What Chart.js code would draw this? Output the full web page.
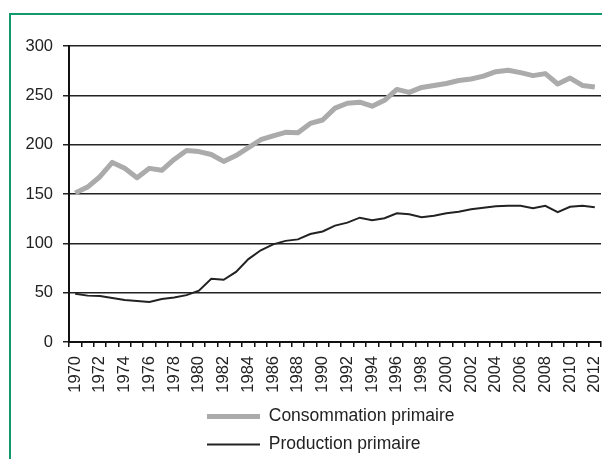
<!DOCTYPE html>
<html>
<head>
<meta charset="utf-8">
<script src="https://cdn.jsdelivr.net/npm/chart.js@4/dist/chart.umd.min.js"></script>
<style>
  html, body { margin: 0; padding: 0; background: #fff; overflow: hidden; }
  #cadre { position: absolute; left: 9px; top: 13px; width: 800px; height: 800px; border: 2px solid #13996b; }
  #graph { position: absolute; left: 0; top: 0; }
</style>
</head>
<body>
<div id="cadre"></div>
<canvas id="graph" width="602" height="459"></canvas>
<script>
const annees = ["1970", "1971", "1972", "1973", "1974", "1975", "1976", "1977", "1978", "1979",
  "1980", "1981", "1982", "1983", "1984", "1985", "1986", "1987", "1988", "1989",
  "1990", "1991", "1992", "1993", "1994", "1995", "1996", "1997", "1998", "1999",
  "2000", "2001", "2002", "2003", "2004", "2005", "2006", "2007", "2008", "2009",
  "2010", "2011", "2012"];

const consommation = [151, 157, 167.5, 182, 176, 166.5, 176, 174, 185, 194,
  193, 190, 183, 189, 197, 205, 209, 212.5, 212, 221.5,
  225, 237, 242, 243, 239, 245, 256, 253, 258, 260,
  262, 265, 266.5, 269.5, 274, 275.5, 273, 270, 272, 261.5,
  267.5, 260, 258.5];

const production = [49, 47, 46.5, 44.5, 42.5, 41.5, 40.5, 43.5, 45, 47.5,
  52, 64, 63, 71, 84, 93, 99, 102.5, 104, 109.5,
  112, 118, 121, 126, 123.5, 125.5, 130.5, 129.5, 126.5, 128,
  130.5, 132, 134.5, 136, 137.5, 138, 138, 135.5, 138, 131.5,
  137, 138, 136.5];

const police = "'Liberation Sans', Arial, sans-serif";

// legende sur deux lignes, alignee a gauche comme l'original
const legendePlace = {
  id: "legendePlace",
  afterLayout(chart) {
    const leg = chart.legend;
    leg.left = 196.5;
    leg.top = 397.25;
    leg.bottom = 459;
  },
};

new Chart(document.getElementById("graph"), {
  type: "line",
  data: {
    labels: annees,
    datasets: [
      {
        label: "Consommation primaire",
        data: consommation,
        borderColor: "#ababab",
        backgroundColor: "#ababab",
        borderWidth: 5,
        pointRadius: 0,
        tension: 0,
        borderJoinStyle: "round",
      },
      {
        label: "Production primaire",
        data: production,
        borderColor: "#222222",
        backgroundColor: "#222222",
        borderWidth: 2,
        pointRadius: 0,
        tension: 0,
      },
    ],
  },
  options: {
    responsive: false,
    animation: false,
    layout: { padding: { left: 26, top: 46, right: 1, bottom: 24 } },
    plugins: {
      tooltip: { enabled: false },
      legend: {
        position: "bottom",
        align: "start",
        labels: {
          usePointStyle: true,
          pointStyle: "line",
          pointStyleWidth: 53,
          padding: 10.5,
          color: "#222",
          font: { family: police, size: 17.5 },
        },
      },
    },
    scales: {
      x: {
        offset: true,
        grid: {
          offset: true,
          drawOnChartArea: false,
          color: "#111",
          lineWidth: 1.5,
          tickLength: 5,
        },
        border: { color: "#111", width: 2 },
        ticks: {
          autoSkip: false,
          maxRotation: 90,
          minRotation: 90,
          padding: 9,
          color: "#222",
          font: { family: police, size: 16.5 },
          callback: (v, i) => (i % 2 === 0 ? annees[i] : ""),
        },
        afterFit: (s) => {
          s.height = 55;
          s.paddingRight = 0;
          s.paddingLeft = 0;
        },
      },
      y: {
        min: 0,
        max: 300,
        grid: { color: "#222", lineWidth: 1.5, tickLength: 6 },
        border: { color: "#111", width: 2 },
        ticks: {
          stepSize: 50,
          padding: 10,
          color: "#222",
          font: { family: police, size: 16.5 },
        },
        afterFit: (s) => {
          s.width = 43;
        },
      },
    },
  },
  plugins: [legendePlace],
});
</script>
</body>
</html>
